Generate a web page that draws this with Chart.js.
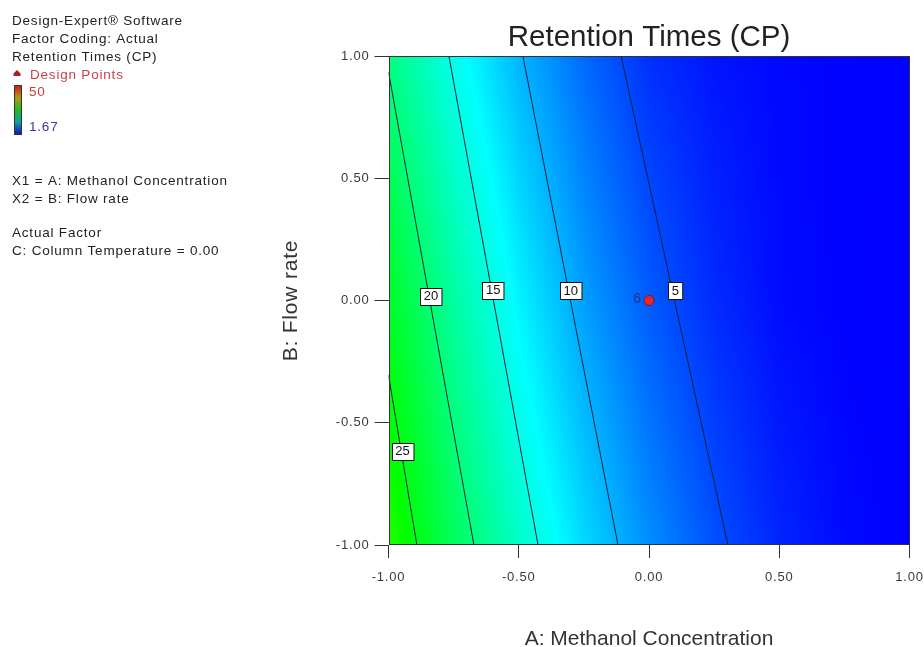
<!DOCTYPE html>
<html>
<head>
<meta charset="utf-8">
<title>Retention Times (CP)</title>
<script src="https://cdn.jsdelivr.net/npm/chart.js@4.4.1/dist/chart.umd.min.js"></script>
<style>
  html, body { margin: 0; padding: 0; background: #fff; }
</style>
</head>
<body>
<canvas id="mycanvas" width="924" height="647"></canvas>
<script>
// response grid: A (methanol) across, B (flow rate) down
var gridA = [-1, -0.75, -0.5, -0.25, 0, 0.25, 0.5, 0.75, 1];
var gridB = [1, 0, -1];
var retention = [
	[19.7, 14.6, 10.25, 6.7, 3.9, 2.6, 2.0, 1.8, 1.7],
	[24.1, 18.3, 13.3, 9.2, 6.0, 3.7, 2.2, 1.75, 1.7],
	[27.6, 21.6, 16.4, 12.0, 8.4, 5.5, 3.4, 2.1, 1.67]
];
var rangeLow = 1.67;
var rangeHigh = 50;

// contour lines, start/end in coded units
var contourLevels = [25, 20, 15, 10, 5];
var contourA = [[-1, -0.891], [-1, -0.672], [-0.768, -0.426], [-0.484, -0.119], [-0.107, 0.303]];
var contourB = [[-0.305, -1], [0.935, -1], [1, -1], [1, -1], [1, -1]];
var labelA = [-0.946, -0.837, -0.598, -0.300, 0.101];
var labelB = [-0.617, 0.018, 0.043, 0.040, 0.040];

// design points
var designA = [0];
var designB = [0];
var designRuns = ['6'];

var tickValues = [-1, -0.5, 0, 0.5, 1];

var FONT = "'Liberation Sans', Arial, sans-serif";
var SPACING = '0.8px';
Chart.defaults.font.family = FONT;

// blue -> cyan -> green -> yellow -> red
var mapStops = [[0, 0, 255], [0, 255, 255], [0, 255, 0], [255, 255, 0], [255, 0, 0]];

function colourFor(v) {
	var t = (v - rangeLow) / (rangeHigh - rangeLow);
	t = Math.max(0, Math.min(1, t)) * 4;
	var i = Math.min(3, Math.floor(t));
	var f = t - i;
	var a = mapStops[i], b = mapStops[i + 1];
	return [a[0] + (b[0] - a[0]) * f, a[1] + (b[1] - a[1]) * f, a[2] + (b[2] - a[2]) * f];
}

function lookup(a, b) {
	var i = 0;
	while (i < gridA.length - 2 && a > gridA[i + 1]) i++;
	var fx = (a - gridA[i]) / (gridA[i + 1] - gridA[i]);
	var j = 0;
	while (j < gridB.length - 2 && b < gridB[j + 1]) j++;
	var fy = (b - gridB[j]) / (gridB[j + 1] - gridB[j]);
	var r0 = retention[j][i] * (1 - fx) + retention[j][i + 1] * fx;
	var r1 = retention[j + 1][i] * (1 - fx) + retention[j + 1][i + 1] * fx;
	return r0 * (1 - fy) + r1 * fy;
}

// shaded response surface behind the contours
var fieldPlugin = {
	id: 'field',
	beforeDatasetsDraw: function(chart) {
		var area = chart.chartArea, xs = chart.scales.x, ys = chart.scales.y;
		var x0 = Math.round(area.left), y0 = Math.round(area.top);
		var w = Math.round(area.right) - x0, h = Math.round(area.bottom) - y0;
		var img = chart.ctx.createImageData(w, h);
		for (var py = 0; py < h; py++) {
			var b = ys.getValueForPixel(y0 + py + 0.5);
			for (var px = 0; px < w; px++) {
				var a = xs.getValueForPixel(x0 + px + 0.5);
				var c = colourFor(lookup(a, b));
				var k = (py * w + px) * 4;
				img.data[k] = c[0];
				img.data[k + 1] = c[1];
				img.data[k + 2] = c[2];
				img.data[k + 3] = 255;
			}
		}
		chart.ctx.putImageData(img, x0, y0);
	}
};

// frame, contour value boxes and run labels
var labelPlugin = {
	id: 'labels',
	afterDatasetsDraw: function(chart) {
		var ctx = chart.ctx, area = chart.chartArea, xs = chart.scales.x, ys = chart.scales.y;
		ctx.save();
		ctx.strokeStyle = '#333';
		ctx.lineWidth = 1;
		ctx.strokeRect(Math.round(area.left) + 0.5, Math.round(area.top) + 0.5,
			Math.round(area.right - area.left) - 1, Math.round(area.bottom - area.top) - 1);

		ctx.font = '13px ' + FONT;
		ctx.textAlign = 'center';
		ctx.textBaseline = 'middle';
		for (var k = 0; k < contourLevels.length; k++) {
			var txt = String(contourLevels[k]);
			var px = xs.getPixelForValue(labelA[k]);
			var py = ys.getPixelForValue(labelB[k]);
			var w = ctx.measureText(txt).width + 7;
			var h = 17;
			var bx = Math.round(px - w / 2) + 0.5, by = Math.round(py - h / 2) + 0.5;
			ctx.fillStyle = '#fff';
			ctx.fillRect(bx, by, w, h);
			ctx.strokeStyle = '#111';
			ctx.strokeRect(bx, by, w, h);
			ctx.fillStyle = '#111';
			ctx.fillText(txt, px, py + 0.5);
		}

		ctx.font = '14px ' + FONT;
		ctx.textAlign = 'right';
		ctx.fillStyle = '#27357f';
		for (var d = 0; d < designRuns.length; d++) {
			ctx.fillText(designRuns[d], xs.getPixelForValue(designA[d]) - 8, ys.getPixelForValue(designB[d]) - 1);
		}
		ctx.restore();
		// tick labels and the B title are drawn after this hook (z = 1)
		ctx.letterSpacing = SPACING;
	}
};

// side panel with the model notes and colour key
var panelPlugin = {
	id: 'panel',
	afterDraw: function(chart) {
		var ctx = chart.ctx;
		ctx.save();
		ctx.letterSpacing = SPACING;
		ctx.font = '13.5px ' + FONT;
		ctx.textAlign = 'left';
		ctx.textBaseline = 'middle';
		ctx.fillStyle = '#222';
		ctx.fillText('Design-Expert\u00ae Software', 12, 21);
		ctx.fillText('Factor Coding: Actual', 12, 39);
		ctx.fillText('Retention Times (CP)', 12, 57);
		ctx.fillStyle = '#c8404a';
		ctx.fillText('Design Points', 30, 75);
		ctx.fillStyle = '#a8202a';
		ctx.beginPath();
		ctx.moveTo(17, 70);
		ctx.lineTo(20.5, 73.5);
		ctx.lineTo(20.5, 76);
		ctx.lineTo(13.5, 76);
		ctx.lineTo(13.5, 73.5);
		ctx.closePath();
		ctx.fill();

		var g = ctx.createLinearGradient(0, 86, 0, 134);
		g.addColorStop(0, '#d01a1a');
		g.addColorStop(0.25, '#b89a10');
		g.addColorStop(0.5, '#18c020');
		g.addColorStop(0.75, '#10a0a0');
		g.addColorStop(1, '#1018c0');
		ctx.fillStyle = g;
		ctx.fillRect(15, 86, 6, 48);
		ctx.strokeStyle = '#333';
		ctx.strokeRect(14.5, 85.5, 7, 49);

		ctx.fillStyle = '#c83a3a';
		ctx.fillText(String(rangeHigh), 29, 92);
		ctx.fillStyle = '#3a3a9a';
		ctx.fillText(rangeLow.toFixed(2), 29, 127);

		ctx.fillStyle = '#222';
		ctx.fillText('X1 = A: Methanol Concentration', 12, 181);
		ctx.fillText('X2 = B: Flow rate', 12, 199);
		ctx.fillText('Actual Factor', 12, 233);
		ctx.fillText('C: Column Temperature = 0.00', 12, 251);
		ctx.restore();
	}
};

var datasets = [];
for (var k = 0; k < contourLevels.length; k++) {
	datasets.push({
		label: String(contourLevels[k]),
		data: [
			{x: contourA[k][0], y: contourB[k][0]},
			{x: contourA[k][1], y: contourB[k][1]}
		],
		showLine: true,
		borderColor: '#10203a',
		borderWidth: 1,
		pointRadius: 0,
		fill: false
	});
}
datasets.push({
	label: 'Design Points',
	data: designA.map(function(a, i) { return {x: a, y: designB[i]}; }),
	showLine: false,
	pointRadius: 5,
	pointBackgroundColor: '#e8262b',
	pointBorderColor: '#8a1418',
	pointBorderWidth: 1
});

function tickSet(scale) {
	scale.ticks = tickValues.map(function(v) { return {value: v}; });
}

function fixedFit(size) {
	return function(s) {
		if (s.isHorizontal()) s.height = size; else s.width = size;
		s.paddingLeft = 0;
		s.paddingRight = 0;
		s.paddingTop = 0;
		s.paddingBottom = 0;
	};
}

function twoPlaces(v) { return Number(v).toFixed(2); }

var ctx = document.getElementById('mycanvas');
var contourChart = new Chart(ctx, {
	type: 'scatter',
	data: { datasets: datasets },
	options: {
		responsive: false,
		animation: false,
		devicePixelRatio: 1,
		layout: { padding: { top: 10, left: 281, right: 14.5, bottom: 0 } },
		plugins: {
			legend: { display: false },
			tooltip: { enabled: false },
			title: {
				display: true,
				text: 'Retention Times (CP)',
				fullSize: false,
				color: '#222',
				font: { size: 29.5, weight: 'normal', family: FONT, lineHeight: 1.14 },
				padding: { top: 10.7, bottom: 1.7 }
			}
		},
		scales: {
			x: {
				type: 'linear',
				min: -1,
				max: 1,
				afterBuildTicks: tickSet,
				afterFit: fixedFit(102),
				grid: { drawOnChartArea: false, drawTicks: true, tickLength: 13, color: '#333' },
				border: { display: false },
				ticks: { z: 1, padding: 12, color: '#3a3a3a', font: { size: 13 }, callback: twoPlaces },
				title: {
					display: true,
					text: 'A: Methanol Concentration',
					color: '#333',
					font: { size: 21, lineHeight: 1 },
					padding: { top: 0, bottom: -3 }
				}
			},
			y: {
				type: 'linear',
				min: -1,
				max: 1,
				afterBuildTicks: tickSet,
				afterFit: fixedFit(107.5),
				grid: { z: 1, drawOnChartArea: false, drawTicks: true, tickLength: 14, color: '#333' },
				border: { display: false },
				ticks: { z: 1, padding: 5, color: '#3a3a3a', font: { size: 13 }, callback: twoPlaces },
				title: {
					display: true,
					text: 'B: Flow rate',
					color: '#333',
					font: { size: 21, lineHeight: 1 },
					padding: { top: 0, bottom: 0 }
				}
			}
		}
	},
	plugins: [fieldPlugin, labelPlugin, panelPlugin]
});
</script>
</body>
</html>
